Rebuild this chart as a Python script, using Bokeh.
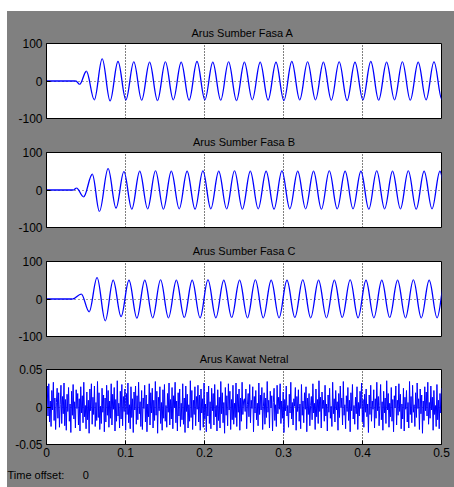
from bokeh.plotting import figure
from bokeh.models import FixedTicker, Range1d, Spacer, ColumnDataSource, Title
from bokeh.layouts import column, row
from bokeh.embed import file_html
from bokeh.resources import INLINE
import numpy as np

titles = ["Arus Sumber  Fasa A", "Arus Sumber Fasa B", "Arus Sumber Fasa C", "Arus Kawat Netral"]
x_ticks = [0, 0.1, 0.2, 0.3, 0.4, 0.5]
x_tick_labels = ["0", "0.1", "0.2", "0.3", "0.4", "0.5"]
grid_ticks = [0.1, 0.2, 0.3, 0.4]
phase_ticks = [-100, 0, 100]
phase_tick_labels = ["-100", "0", "100"]
netral_ticks = [-0.05, 0, 0.05]
netral_tick_labels = ["-0.05", "0", "0.05"]
footer_label = "Time offset:"
footer_value = "0"

# turning points (time s, current A) of the phase currents
fasa_a_t = [0, 0.037, 0.042, 0.0505, 0.0605, 0.0705, 0.0805,
            0.0905, 0.1005, 0.1105, 0.1205, 0.1305, 0.1405, 0.1505, 0.1605, 0.1705, 0.1805,
            0.1905, 0.2005, 0.2105, 0.2205, 0.2305, 0.2405, 0.2505, 0.2605, 0.2705, 0.2805,
            0.2905, 0.3005, 0.3105, 0.3205, 0.3305, 0.3405, 0.3505, 0.3605, 0.3705, 0.3805,
            0.3905, 0.4005, 0.4105, 0.4205, 0.4305, 0.4405, 0.4505, 0.4605, 0.4705, 0.4805,
            0.4905, 0.5005]
fasa_a_v = [0, 0, -9, 26, -50, 59, -53,
            52, -50, 51, -51, 50, -52, 51, -50, 50, -51,
            52, -50, 50, -51, 51, -52, 50, -50, 50, -51,
            50, -52, 52, -50, 51, -50, 50, -51, 51, -52,
            50, -50, 52, -51, 50, -50, 51, -51, 50, -50,
            51, -49]

fasa_b_t = [0, 0.034, 0.038, 0.047, 0.058, 0.067, 0.078, 0.088,
            0.098, 0.108, 0.118, 0.128, 0.138, 0.148, 0.158, 0.168, 0.178, 0.188,
            0.198, 0.208, 0.218, 0.228, 0.238, 0.248, 0.258, 0.268, 0.278, 0.288,
            0.298, 0.308, 0.318, 0.328, 0.338, 0.348, 0.358, 0.368, 0.378, 0.388,
            0.398, 0.408, 0.418, 0.428, 0.438, 0.448, 0.458, 0.468, 0.478, 0.488,
            0.498, 0.508]
fasa_b_v = [0, 0, 5, -18, 42, -57, 57, -48,
            49, -51, 50, -50, 51, -51, 50, -50, 50, -51,
            51, -50, 50, -50, 51, -51, 50, -50, 50, -51,
            51, -50, 50, -50, 50, -51, 51, -50, 50, -50,
            50, -51, 51, -50, 50, -50, 51, -51, 50, -50,
            50, -50]

fasa_c_t = [0, 0.033, 0.044, 0.054, 0.064, 0.0744,
            0.0844, 0.0944, 0.1044, 0.1144, 0.1244, 0.1344, 0.1444, 0.1544, 0.1644, 0.1744,
            0.1844, 0.1944, 0.2044, 0.2144, 0.2244, 0.2344, 0.2444, 0.2544, 0.2644, 0.2744,
            0.2844, 0.2944, 0.3044, 0.3144, 0.3244, 0.3344, 0.3444, 0.3544, 0.3644, 0.3744,
            0.3844, 0.3944, 0.4044, 0.4144, 0.4244, 0.4344, 0.4444, 0.4544, 0.4644, 0.4744,
            0.4844, 0.4944, 0.5044]
fasa_c_v = [0, 0, 13, -34, 57, -58,
            50, -47, 50, -51, 50, -50, 51, -50, 50, -49,
            50, -50, 51, -50, 50, -49, 50, -50, 51, -50,
            50, -50, 50, -49, 51, -50, 50, -50, 50, -49,
            51, -50, 50, -50, 50, -49, 50, -50, 51, -50,
            50, -50, 50]

# neutral wire current samples (A)
netral_v = [
    0.005, 0.028, -0.012, 0.031, -0.020, 0.008, -0.026, 0.022, -0.004, 0.033, -0.018, 0.012, -0.030, 0.006, 0.025, -0.015, 0.019, -0.027, 0.003, 0.029,
    -0.022, 0.014, -0.009, 0.032, -0.025, 0.010, -0.031, 0.017, -0.006, 0.026, -0.019, 0.004, -0.034, 0.021, -0.011, 0.030, -0.016, 0.007, -0.028, 0.023,
    -0.002, 0.018, -0.024, 0.011, -0.032, 0.027, -0.008, 0.015, -0.021, 0.033, -0.013, 0.002, -0.029, 0.020, -0.017, 0.009, -0.035, 0.024, -0.005, 0.031,
    -0.023, 0.013, -0.010, 0.028, -0.026, 0.006, -0.018, 0.034, -0.014, 0.019, -0.030, 0.001, -0.022, 0.025, -0.007, 0.016, -0.033, 0.012, -0.020, 0.029,
    -0.011, 0.022, -0.027, 0.008, -0.015, 0.031, -0.024, 0.017, -0.003, 0.026, -0.032, 0.010, -0.019, 0.035, -0.012, 0.005, -0.028, 0.021, -0.016, 0.030,
    -0.025, 0.014, -0.006, 0.024, -0.031, 0.018, -0.010, 0.032, -0.021, 0.003, -0.029, 0.027, -0.014, 0.011, -0.034, 0.020, -0.004, 0.028, -0.023, 0.015,
    -0.017, 0.033, -0.009, 0.007, -0.026, 0.022, -0.030, 0.012, -0.002, 0.029, -0.020, 0.016, -0.033, 0.004, -0.013, 0.031, -0.024, 0.019, -0.008, 0.025,
    -0.028, 0.009, -0.018, 0.034, -0.011, 0.021, -0.035, 0.013, -0.005, 0.027, -0.022, 0.006, -0.031, 0.023, -0.015, 0.030, -0.019, 0.002, -0.027, 0.018,
    -0.007, 0.032, -0.024, 0.010, -0.016, 0.026, -0.029, 0.015, -0.001, 0.033, -0.021, 0.008, -0.032, 0.019, -0.012, 0.024, -0.026, 0.005, -0.017, 0.031,
    -0.023, 0.012, -0.034, 0.028, -0.006, 0.017, -0.028, 0.003, -0.019, 0.035, -0.014, 0.022, -0.030, 0.009, -0.010, 0.027, -0.025, 0.014, -0.003, 0.029,
    -0.020, 0.016, -0.031, 0.024, -0.008, 0.011, -0.027, 0.032, -0.016, 0.004, -0.033, 0.020, -0.012, 0.028, -0.022, 0.007, -0.029, 0.025, -0.005, 0.018,
    -0.024, 0.030, -0.013, 0.002, -0.032, 0.023, -0.018, 0.013, -0.028, 0.034, -0.009, 0.019, -0.021, 0.006, -0.035, 0.026, -0.011, 0.015, -0.025, 0.031,
    -0.004, 0.021, -0.030, 0.010, -0.017, 0.029, -0.023, 0.005, -0.014, 0.032, -0.026, 0.017, -0.007, 0.024, -0.031, 0.012, -0.019, 0.033, -0.010, 0.008,
    0.011, -0.006, 0.024, -0.029, 0.003, 0.018, -0.013, 0.030, -0.021, 0.009, -0.002, 0.027, -0.033, 0.014, -0.008, 0.022, -0.017, 0.005, -0.025, 0.032,
    -0.010, 0.016, -0.004, 0.026, -0.030, 0.001, 0.019, -0.023, 0.012, -0.014, 0.034, -0.007, 0.009, -0.028, 0.021, -0.001, 0.015, -0.032, 0.006, 0.025,
    -0.018, 0.003, -0.026, 0.029, -0.009, 0.013, -0.003, 0.031, -0.022, 0.008, -0.015, 0.020, -0.034, 0.010, -0.005, 0.028, -0.012, 0.002, -0.027, 0.017,
    -0.008, 0.033, -0.016, 0.006, -0.024, 0.011, 0.001, 0.026, -0.031, 0.014, -0.006, 0.023, -0.019, 0.004, -0.029, 0.030, -0.011, 0.008, -0.021, 0.019,
    -0.003, 0.027, -0.033, 0.012, -0.010, 0.018, -0.025, 0.002, 0.014, -0.017, 0.031, -0.008, 0.005, -0.030, 0.024, -0.013, 0.010, -0.022, 0.035, -0.006,
    0.013, -0.028, 0.020, -0.002, 0.009, -0.019, 0.029, -0.012, 0.004, -0.032, 0.016, -0.007, 0.025, -0.015, 0.001, -0.026, 0.033, -0.009, 0.011, -0.020,
    0.022, -0.004, 0.007, -0.031, 0.018, -0.014, 0.028, -0.001, 0.012, -0.024, 0.034, -0.011, 0.003, -0.029, 0.015, -0.006, 0.026, -0.018, 0.009, -0.033,
    0.019, -0.005, 0.030, -0.016, 0.002, -0.023, 0.013, -0.009, 0.027, -0.030, 0.006, -0.012, 0.021, -0.002, 0.032, -0.020, 0.010, -0.027, 0.017, -0.007,
    0.024, -0.013, 0.004, -0.034, 0.016, -0.010, 0.029, -0.019, 0.008, -0.003, 0.023, -0.028, 0.011, -0.015, 0.033, -0.005, 0.014, -0.025, 0.002, 0.030,
    -0.017, 0.007, -0.031, 0.021, -0.008, 0.012, -0.022, 0.035, -0.004, 0.018, -0.027, 0.005, -0.013, 0.026, -0.019, 0.010, -0.033, 0.015, -0.001, 0.028,
    -0.024, 0.009, -0.011, 0.031, -0.006, 0.017, -0.029, 0.004, -0.016, 0.025, -0.032, 0.013, -0.003, 0.022, -0.020, 0.006, -0.028, 0.034, -0.010, 0.014,
    -0.021, 0.029, -0.007, 0.003, -0.026, 0.019, -0.014, 0.032, -0.002, 0.011, -0.030, 0.024, -0.009, 0.016, -0.035, 0.008, -0.018, 0.027, -0.005, 0.020,
    -0.012, 0.033, -0.023, 0.006, -0.015, 0.028, -0.004, 0.013, -0.031, 0.022, -0.010, 0.002, -0.026, 0.030, -0.017, 0.009, -0.029, 0.018, -0.008, 0.025,
]
netral_t = np.linspace(0, 0.5, len(netral_v))

GRAY = "#808080"
FONT = "Liberation Sans"
BLUE = "#0000ff"
K = 0.3634  # bezier handle fraction giving a sinusoidal half-wave


def styled_axis(ax, ticks, labels):
    ax.ticker = FixedTicker(ticks=ticks)
    ax.major_label_overrides = {t: l for t, l in zip(ticks, labels)}
    ax.major_tick_in = 4
    ax.major_tick_out = 0
    ax.minor_tick_line_color = None
    ax.major_tick_line_color = "black"
    ax.axis_line_color = "black"
    ax.major_label_text_font = FONT
    ax.major_label_text_color = "black"
    ax.major_label_text_font_size = "12px"
    ax.major_label_standoff = 4


def make_panel(title, height, top, bottom, yr, yticks, ylabels, show_x):
    p = figure(width=447, height=height, x_range=Range1d(0, 0.5), y_range=Range1d(*yr),
               output_backend="svg", toolbar_location=None,
               x_axis_location="below" if show_x else None,
               min_border_left=39, min_border_right=13, min_border_top=top, min_border_bottom=bottom,
               border_fill_color=GRAY, background_fill_color="white",
               outline_line_color="black")
    p.title.text = title
    p.title.align = "center"
    p.title.text_font = FONT
    p.title.text_font_size = "11px"
    p.title.text_font_style = "normal"
    p.title.text_color = "black"
    p.title.standoff = 9
    styled_axis(p.yaxis[0], yticks, ylabels)
    if show_x:
        styled_axis(p.xaxis[0], x_ticks, x_tick_labels)
        p.xaxis[0].major_label_standoff = 3
    p.xgrid.ticker = FixedTicker(ticks=grid_ticks)
    p.xgrid.grid_line_color = "black"
    p.xgrid.grid_line_dash = "1 2"
    p.ygrid.ticker = FixedTicker(ticks=[0])
    p.ygrid.grid_line_color = "#404040"
    p.ygrid.grid_line_dash = "1 3"
    return p


def add_wave(p, t, v):
    t = np.asarray(t, dtype=float)
    v = np.asarray(v, dtype=float)
    dt = t[1:] - t[:-1]
    src = ColumnDataSource(dict(x0=t[:-1], y0=v[:-1], x1=t[1:], y1=v[1:],
                                cx0=t[:-1] + K * dt, cy0=v[:-1],
                                cx1=t[1:] - K * dt, cy1=v[1:]))
    p.bezier(x0="x0", y0="y0", x1="x1", y1="y1", cx0="cx0", cy0="cy0", cx1="cx1", cy1="cy1",
             source=src, line_color=BLUE, line_width=1.3)


p1 = make_panel(titles[0], 114, 32, 7, (-100, 100), phase_ticks, phase_tick_labels, False)
add_wave(p1, fasa_a_t, fasa_a_v)
p2 = make_panel(titles[1], 109, 27, 7, (-100, 100), phase_ticks, phase_tick_labels, False)
add_wave(p2, fasa_b_t, fasa_b_v)
p3 = make_panel(titles[2], 109, 27, 7, (-100, 100), phase_ticks, phase_tick_labels, False)
add_wave(p3, fasa_c_t, fasa_c_v)
p4 = make_panel(titles[3], 144, 26, 43, (-0.05, 0.05), netral_ticks, netral_tick_labels, True)
p4.line(netral_t, netral_v, line_color=BLUE, line_width=1)
p4.add_layout(Title(text=footer_label + "\u00a0" * 6 + footer_value, align="left", offset=-39,
                    standoff=14, text_font=FONT, text_font_size="11px",
                    text_font_style="normal", text_color="black"), "below")

panels = column(p1, p2, p3, p4, spacing=0, styles={"background-color": GRAY})
layout = column(Spacer(width=454, height=11, styles={"background-color": "white"}),
                row(Spacer(width=7, height=476, styles={"background-color": "white"}), panels, spacing=0),
                spacing=0)

open("out.html", "w").write(file_html(layout, INLINE))
